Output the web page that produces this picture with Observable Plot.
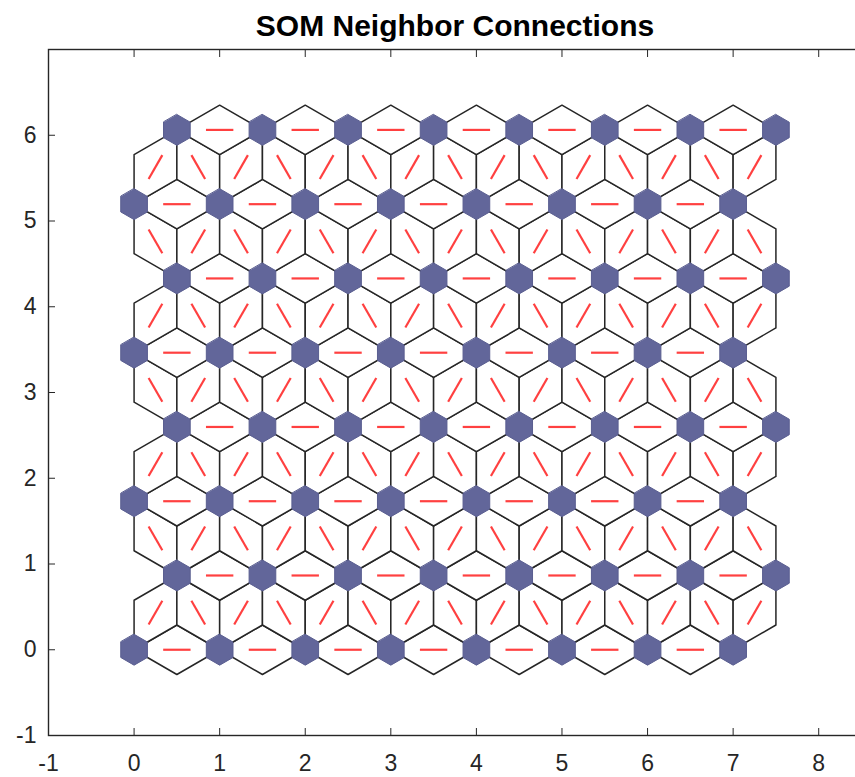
<!DOCTYPE html>
<html>
<head>
<meta charset="utf-8">
<script src="https://cdn.jsdelivr.net/npm/d3@7"></script>
<script src="https://cdn.jsdelivr.net/npm/@observablehq/plot@0.6"></script>
<style>
  html, body { margin: 0; padding: 0; background: #fff; overflow: hidden; }
  #chart svg { max-width: none !important; display: block; }
</style>
</head>
<body>
<div id="chart"></div>
<script>
// ---- Data: 8x8 hexagonal SOM layer (hextop positions) ----
const chartTitle = "SOM Neighbor Connections";
const columns = [0, 1, 2, 3, 4, 5, 6, 7];
const rowY = [0, 0.8660, 1.7321, 2.5981, 3.4641, 4.3301, 5.1962, 6.0622];
const rowShift = [0, 0.5, 0, 0.5, 0, 0.5, 0, 0.5];
const xTicks = [-1, 0, 1, 2, 3, 4, 5, 6, 7, 8];
const yTicks = [-1, 0, 1, 2, 3, 4, 5, 6];

// neurons
const neurons = [];
rowY.forEach((y, r) => columns.forEach(c => neurons.push({id: neurons.length, x: c + rowShift[r], y})));

// neighbor connections (distance 1)
const edges = [];
for (let i = 0; i < neurons.length; i++) {
  for (let j = i + 1; j < neurons.length; j++) {
    const dx = neurons[j].x - neurons[i].x, dy = neurons[j].y - neurons[i].y;
    if (Math.hypot(dx, dy) < 1.01) edges.push({a: neurons[i], b: neurons[j]});
  }
}

// connection patches (rhombi)
const h = 1 / (2 * Math.sqrt(3));
const patchPts = [];
edges.forEach((e, k) => {
  const {a, b} = e;
  const mx = (a.x + b.x) / 2, my = (a.y + b.y) / 2;
  const dx = b.x - a.x, dy = b.y - a.y, L = Math.hypot(dx, dy);
  const nx = -dy / L, ny = dx / L;
  patchPts.push({id: k, x: a.x, y: a.y});
  patchPts.push({id: k, x: mx + nx * h, y: my + ny * h});
  patchPts.push({id: k, x: b.x, y: b.y});
  patchPts.push({id: k, x: mx - nx * h, y: my - ny * h});
});

// red connection lines (middle third)
const t0 = 0.34, t1 = 0.66;
const links = edges.map(({a, b}) => ({
  x1: a.x + (b.x - a.x) * t0, y1: a.y + (b.y - a.y) * t0,
  x2: a.x + (b.x - a.x) * t1, y2: a.y + (b.y - a.y) * t1
}));

// neuron hexagons
const R = 0.18;
const hexPts = [];
neurons.forEach(n => {
  for (let k = 0; k < 6; k++) {
    const ang = k * Math.PI / 3;
    hexPts.push({id: n.id, x: n.x + R * Math.sin(ang), y: n.y + R * Math.cos(ang)});
  }
});

const axisColor = "#262626";
const fmt = d => String(d);
const plot = Plot.plot({
  width: 870,
  height: 777,
  marginLeft: 48,
  marginRight: 9,
  marginTop: 49,
  marginBottom: 42,
  style: {fontFamily: "'Liberation Sans', Arial, Helvetica, sans-serif", fontSize: "23px", color: axisColor, background: "#fff"},
  x: {domain: [-1, 8.5], ticks: xTicks},
  y: {domain: [-1, 7], ticks: yTicks},
  marks: [
    Plot.line(patchPts, {x: "x", y: "y", z: "id", curve: "linear-closed", fill: "white", stroke: "#262626", strokeWidth: 1.5}),
    Plot.link(links, {x1: "x1", y1: "y1", x2: "x2", y2: "y2", stroke: "#ff4040", strokeWidth: 2.2}),
    Plot.line(hexPts, {x: "x", y: "y", z: "id", curve: "linear-closed", fill: "#62669a", stroke: "#5a5e90", strokeWidth: 1}),
    Plot.frame({stroke: axisColor, strokeWidth: 1.4}),
    Plot.axisX(xTicks, {anchor: "bottom", tickSize: -7, tickPadding: 26, tickFormat: fmt, stroke: axisColor, fill: axisColor, fontSize: 23}),
    Plot.axisX(xTicks, {anchor: "top", tickSize: -7, tickFormat: () => "", stroke: axisColor}),
    Plot.axisY(yTicks, {anchor: "left", tickSize: -7, tickPadding: 19, tickFormat: fmt, stroke: axisColor, fill: axisColor, fontSize: 23}),
    Plot.axisY(yTicks, {anchor: "right", tickSize: -7, tickFormat: () => "", stroke: axisColor}),
    Plot.text([chartTitle], {frameAnchor: "top", lineAnchor: "middle", dy: -23, text: d => d, fontSize: 30, fontWeight: "bold", fill: "#000"})
  ]
});
document.getElementById("chart").appendChild(plot);
</script>
</body>
</html>
